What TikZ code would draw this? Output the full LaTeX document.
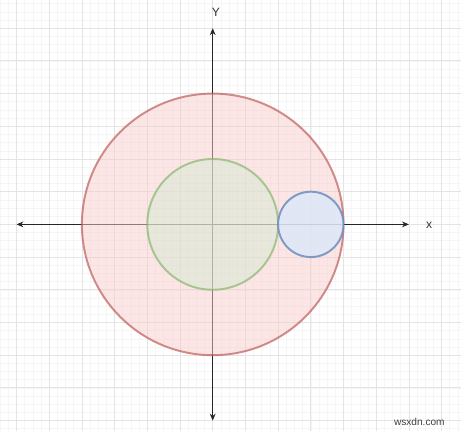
\documentclass[tikz,border=0pt]{standalone}
\usepackage{fontspec}
\setmainfont{Liberation Sans}
\usetikzlibrary{arrows.meta}

\definecolor{gridmaj}{RGB}{228,228,228}
\definecolor{gridmin}{RGB}{245,245,245}
\definecolor{redfill}{HTML}{F8CECC}
\definecolor{redline}{HTML}{B85450}
\definecolor{greenfill}{HTML}{D5E8D4}
\definecolor{greenline}{HTML}{82B366}
\definecolor{bluefill}{HTML}{DAE8FC}
\definecolor{blueline}{HTML}{6C8EBF}

\tikzset{
	axis/.style={line width=0.8pt, color=black!85, -{Stealth[length=6pt,width=5pt]}},
	disc/.style={circle, inner sep=0pt, line width=1.7pt, draw opacity=0.65},
	lbl/.style={font=\fontsize{10.5}{12}\selectfont, text=black!80}
}

\begin{document}
\begin{tikzpicture}[scale=1]
				\useasboundingbox (-6.505,-6.318) rectangle (7.593,6.862);
				\fill[white] (-6.505,-6.318) rectangle (7.593,6.862);
				\draw[gridmin, line width=0.5pt] (-7,-7) grid[step=0.25] (8,7);
				\draw[gridmaj, line width=0.7pt] (-7,-7) grid[step=1] (8,7);
				
				\coordinate (O) at (0,0);
				\coordinate (xm) at (-6,0);
				\coordinate (xp) at (6,0);
				\coordinate (ym) at (0,-6);
				\coordinate (yp) at (0,6);
				
				\draw[axis] (O) -- (xm);
				\draw[axis] (O) -- (xp);
				\draw[axis] (O) -- (ym);
				\draw[axis] (O) -- (yp);
				
				\node[disc, minimum size=8cm, draw=redline, fill=redfill, fill opacity=0.5] (outer) at (0,0) {};
				\node[disc, minimum size=4cm, draw=greenline, fill=greenfill, fill opacity=0.5] (inner) at (0,0) {};
				\node[disc, minimum size=2cm, draw=blueline, draw opacity=0.85, fill=bluefill, fill opacity=0.75] (small) at (3,0) {};
				
				\node[lbl] (ylabel) at (0.1,6.49) {Y};
				\node[lbl] (xlabel) at (6.62,-0.02) {x};
				\node[font=\fontsize{8.8}{10}\selectfont, text=black!75] (mark) at (6.32,-6.03) {wsxdn.com};
\end{tikzpicture}
\end{document}
